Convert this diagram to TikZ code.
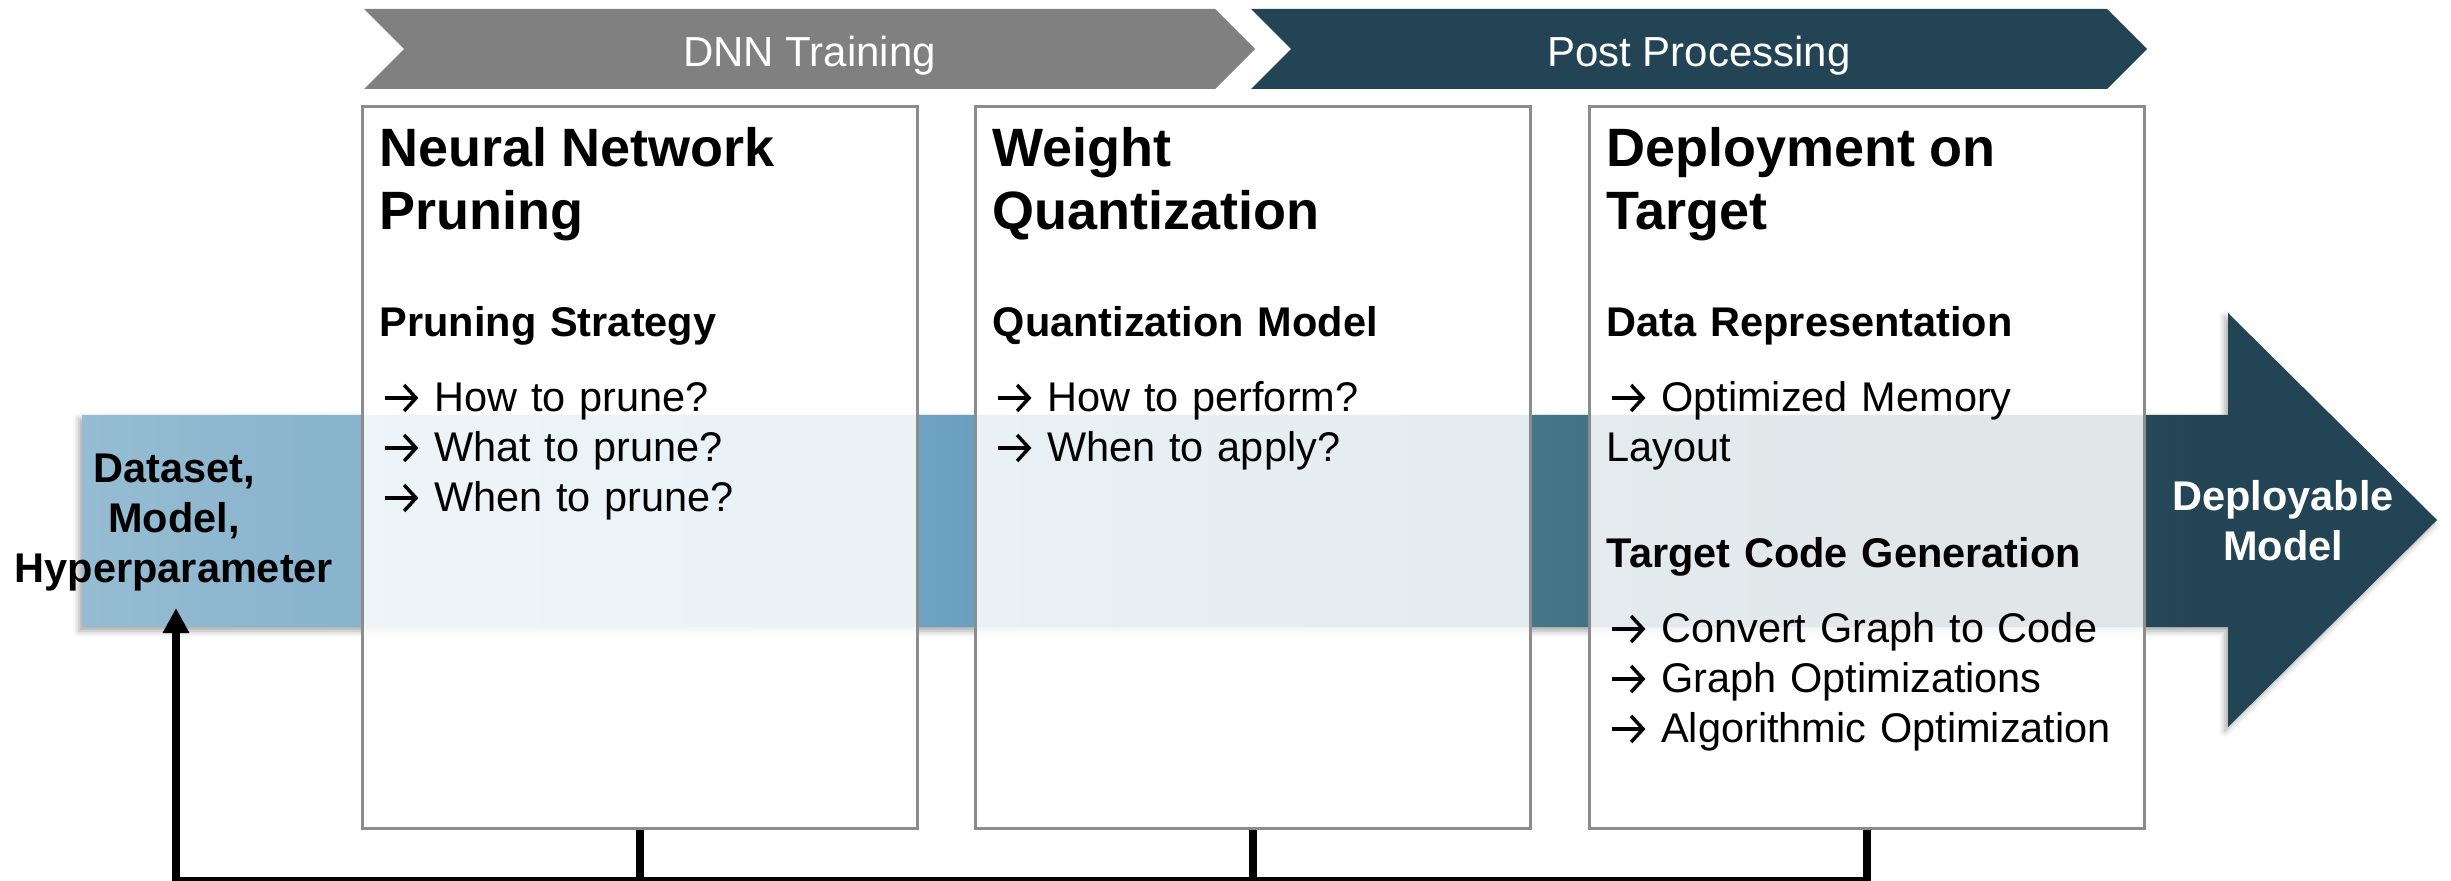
\documentclass[tikz,border=0pt]{standalone}
\usepackage{fontspec}
\setmainfont{Liberation Sans}
\usepackage{tikz}
\usetikzlibrary{positioning, arrows.meta, shapes, shapes.symbols, shadows.blur}

\definecolor{phasegray}{RGB}{128,128,128}
\definecolor{phasedark}{RGB}{35,68,84}
\definecolor{boxline}{RGB}{140,140,140}
\definecolor{flowA}{RGB}{149,188,210}
\definecolor{flowB}{RGB}{109,162,195}
\definecolor{flowC}{RGB}{68,117,137}
\definecolor{flowD}{RGB}{35,68,84}
\pgfdeclarehorizontalshading{flow}{100bp}{color(0bp)=(flowA); color(25bp)=(flowA); color(43bp)=(flowB); color(56bp)=(flowC); color(70bp)=(flowD); color(100bp)=(flowD)}

\newcommand{\headfont}{\fontsize{0.54cm}{0.63cm}\selectfont\bfseries}
\newcommand{\subheadfont}{\fontsize{0.415cm}{0.50cm}\selectfont\bfseries}
\newcommand{\bodyfont}{\fontsize{0.415cm}{0.50cm}\selectfont}
\newcommand{\phasefont}{\fontsize{0.42cm}{0.50cm}\selectfont}
% small arrow in front of each item
\newcommand{\itemarrow}{\hspace{0.04cm}\tikz[baseline=0pt]\draw[line width=0.035cm, -{Straight Barb[length=0.12cm, width=0.26cm]}] (0,0.14) -- (0.33,0.14);\hspace{0.14cm}}

\begin{document}
\begin{tikzpicture}[
        stagebox/.style={draw=boxline, line width=0.03cm, fill=white, fill opacity=0.86, minimum width=5.55cm, minimum height=7.22cm},
        stagetext/.style={anchor=base west, text width=5.3cm, align=left, inner sep=0pt, font=\bodyfont},
        phase/.style={signal, signal from=west, signal to=east, signal pointer angle=90, minimum height=0.80cm, inner sep=0pt, text height=0.36cm, text depth=0pt, text=white, font=\phasefont},
        endlabel/.style={anchor=base, text width=3.4cm, align=center, inner sep=0pt, font=\subheadfont},
        fbline/.style={line width=0.08cm, black}
    ]
        \useasboundingbox (0,0) rectangle (24.51,-8.81);

        % flow arrow in the back
        \shade[shading=flow, blur shadow={shadow xshift=-0.03cm, shadow yshift=-0.04cm, shadow blur radius=0.06cm, shadow opacity=35}]
            (0.82,-4.15) -- (22.28,-4.15) -- (22.28,-3.13) -- (24.37,-5.20) -- (22.28,-7.27) -- (22.28,-6.27) -- (0.82,-6.27) -- cycle;

        \node[phase, fill=phasegray, minimum width=8.91cm] (train) at (8.095,-0.49) {DNN Training};
        \node[phase, fill=phasedark, minimum width=8.96cm] (post) at (16.99,-0.49) {Post Processing};

        \node[stagebox] (prune) at (6.40,-4.675) {};
        \node[stagebox, right=0.55cm of prune] (quant) {};
        \node[stagebox, right=0.56cm of quant] (deploy) {};

        \node[stagetext] (pruneTxt) at ([shift={(0.18,-0.62)}]prune.north west) {%
            {\headfont Neural Network\\Pruning\par}
            \vspace{0.57cm}
            {\subheadfont Pruning Strategy\par}
            \vspace{0.25cm}
            \itemarrow How to prune?\\
            \itemarrow What to prune?\\
            \itemarrow When to prune?};
        \node[stagetext] (quantTxt) at ([shift={(0.18,-0.62)}]quant.north west) {%
            {\headfont Weight\\Quantization\par}
            \vspace{0.57cm}
            {\subheadfont Quantization Model\par}
            \vspace{0.25cm}
            \itemarrow How to perform?\\
            \itemarrow When to apply?};
        \node[stagetext] (deployTxt) at ([shift={(0.18,-0.62)}]deploy.north west) {%
            {\headfont Deployment on\\Target\par}
            \vspace{0.57cm}
            {\subheadfont Data Representation\par}
            \vspace{0.25cm}
            \itemarrow Optimized Memory\\
            Layout\par
            \vspace{0.56cm}
            {\subheadfont Target Code Generation\par}
            \vspace{0.25cm}
            \itemarrow Convert Graph to Code\\
            \itemarrow Graph Optimizations\\
            \itemarrow Algorithmic Optimization};

        \node[endlabel] (input) at (1.74,-4.83) {Dataset,\\Model,\\Hyperparameter};
        \node[endlabel, text=white] (output) at (22.83,-5.10) {Deployable\\Model};

        % feedback loop
        \coordinate (loop) at (1.76,-8.81);
        \coordinate (feed) at (1.76,-6.08);
        \draw[fbline] (prune.south) -- (prune.south |- loop);
        \draw[fbline] (quant.south) -- (quant.south |- loop);
        \draw[fbline, -{Triangle[length=0.25cm, width=0.25cm]}] (deploy.south) |- (loop) -- (feed);
\end{tikzpicture}
\end{document}
